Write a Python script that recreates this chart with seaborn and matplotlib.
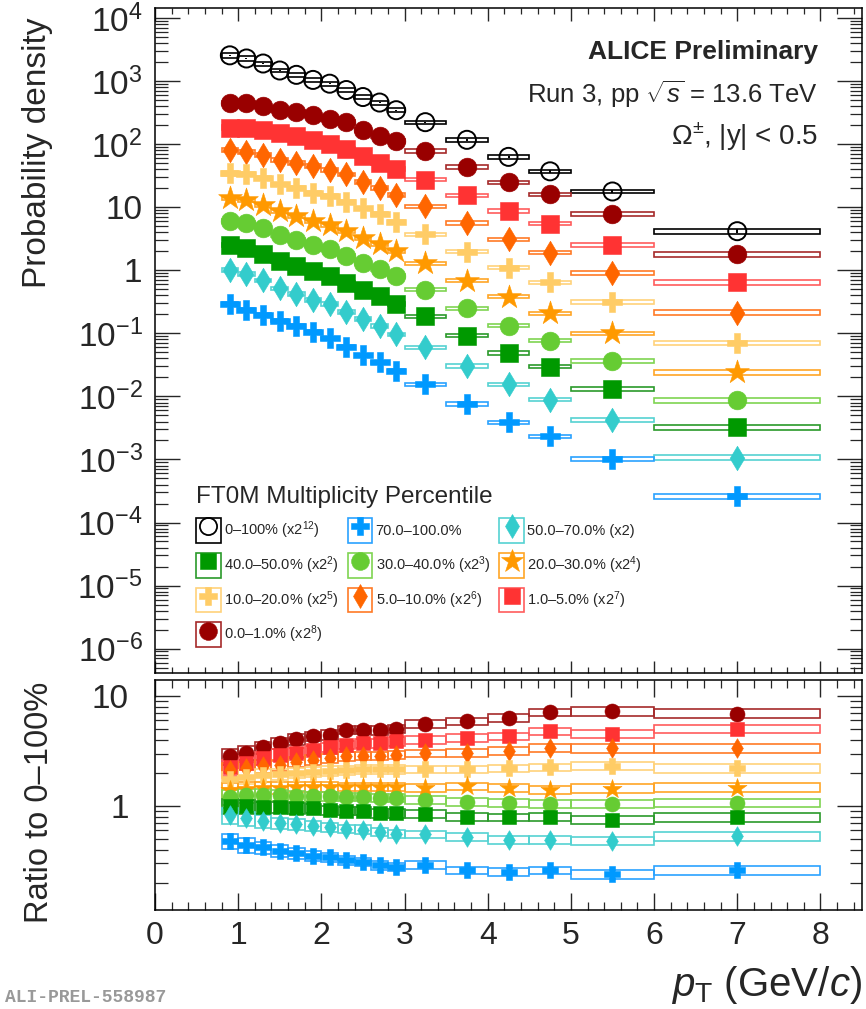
import numpy as np
import pandas as pd
import matplotlib
matplotlib.use("Agg")
import matplotlib.pyplot as plt
import seaborn as sns
from matplotlib.patches import Rectangle, Patch
from matplotlib.lines import Line2D
from matplotlib.legend_handler import HandlerTuple
from matplotlib.ticker import FixedLocator, FuncFormatter, NullFormatter, MultipleLocator

# ---------------- data ----------------
pt_lo = [0.8, 1.0, 1.2, 1.4, 1.6, 1.8, 2.0, 2.2, 2.4, 2.6, 2.8, 3.0, 3.5, 4.0, 4.5, 5.0, 6.0]
pt_hi = [1.0, 1.2, 1.4, 1.6, 1.8, 2.0, 2.2, 2.4, 2.6, 2.8, 3.0, 3.5, 4.0, 4.5, 5.0, 6.0, 8.0]
pt_center = [0.9, 1.1, 1.3, 1.5, 1.7, 1.9, 2.1, 2.3, 2.5, 2.7, 2.9, 3.25, 3.75, 4.25, 4.75, 5.5, 7.0]

classes = ["0–100%", "0.0–1.0%", "1.0–5.0%", "5.0–10.0%", "10.0–20.0%",
           "20.0–30.0%", "30.0–40.0%", "40.0–50.0%", "50.0–70.0%", "70.0–100.0%"]
scale_pow = [12, 8, 7, 6, 5, 4, 3, 2, 1, 0]

# unscaled probability densities
spec_0_100 = [0.628, 0.560, 0.466, 0.361, 0.308, 0.256, 0.223, 0.177, 0.137, 0.112, 0.0847,
              0.0547, 0.0287, 0.0154, 0.00908, 0.00435, 0.00102]
spec_0_1 = [1.78, 1.74, 1.57, 1.36, 1.26, 1.12, 1.00, 0.875, 0.668, 0.535, 0.435,
            0.305, 0.170, 0.0978, 0.0630, 0.0310, 0.00700]
spec_1_5 = [1.44, 1.39, 1.30, 1.16, 1.05, 0.898, 0.800, 0.665, 0.505, 0.400, 0.322,
            0.215, 0.121, 0.0681, 0.0430, 0.0196, 0.00505]
spec_5_10 = [1.28, 1.19, 1.06, 0.879, 0.800, 0.700, 0.620, 0.520, 0.393, 0.318, 0.246,
             0.162, 0.0879, 0.0483, 0.0298, 0.0143, 0.00334]
spec_10_20 = [1.08, 1.05, 0.902, 0.720, 0.630, 0.535, 0.470, 0.380, 0.300, 0.242, 0.185,
              0.116, 0.0620, 0.0343, 0.0202, 0.00989, 0.00221]
spec_20_30 = [0.880, 0.820, 0.690, 0.540, 0.460, 0.382, 0.332, 0.265, 0.204, 0.166, 0.127,
              0.0805, 0.0430, 0.0238, 0.0131, 0.00625, 0.00152]
spec_30_40 = [0.765, 0.700, 0.580, 0.450, 0.380, 0.316, 0.274, 0.214, 0.166, 0.133, 0.101,
              0.0618, 0.0313, 0.0166, 0.00960, 0.00454, 0.00108]
spec_40_50 = [0.628, 0.556, 0.452, 0.354, 0.293, 0.243, 0.203, 0.159, 0.123, 0.0963, 0.0728,
              0.0466, 0.0230, 0.0122, 0.00738, 0.00330, 0.000809]
spec_50_70 = [0.505, 0.440, 0.345, 0.258, 0.213, 0.172, 0.145, 0.111, 0.0840, 0.0660, 0.0480,
              0.0301, 0.0152, 0.00774, 0.00446, 0.00213, 0.000536]
spec_70_100 = [0.295, 0.238, 0.195, 0.160, 0.133, 0.105, 0.0832, 0.0603, 0.0447, 0.0347, 0.0257,
               0.0155, 0.00759, 0.00389, 0.00234, 0.00102, 0.000263]

# ratios to 0-100%
ratio_0_1 = [2.82, 3.06, 3.41, 3.73, 4.06, 4.30, 4.45, 4.94, 4.94, 4.88, 5.05, 5.61, 5.90, 6.32, 7.13, 7.28, 6.93]
ratio_1_5 = [2.25, 2.48, 2.72, 2.92, 3.06, 3.20, 3.41, 3.60, 3.73, 3.73, 3.87, 4.00, 4.15, 4.30, 4.77, 4.54, 5.05]
ratio_5_10 = [2.12, 2.20, 2.31, 2.36, 2.53, 2.62, 2.72, 2.82, 2.86, 2.86, 2.92, 3.02, 3.06, 3.17, 3.36, 3.36, 3.36]
ratio_10_20 = [1.75, 1.85, 1.91, 1.95, 2.01, 2.05, 2.09, 2.12, 2.15, 2.15, 2.15, 2.15, 2.15, 2.20, 2.25, 2.31, 2.20]
ratio_20_30 = [1.39, 1.44, 1.47, 1.47, 1.49, 1.49, 1.49, 1.49, 1.49, 1.49, 1.49, 1.47, 1.51, 1.47, 1.41, 1.44, 1.47]
ratio_30_40 = [1.21, 1.25, 1.25, 1.25, 1.23, 1.23, 1.23, 1.21, 1.21, 1.19, 1.19, 1.13, 1.09, 1.07, 1.05, 1.05, 1.07]
ratio_40_50 = [1.00, 0.99, 0.97, 0.98, 0.95, 0.95, 0.91, 0.90, 0.90, 0.86, 0.86, 0.85, 0.80, 0.79, 0.80, 0.75, 0.79]
ratio_50_70 = [0.82, 0.77, 0.73, 0.70, 0.68, 0.66, 0.64, 0.62, 0.61, 0.58, 0.56, 0.55, 0.52, 0.49, 0.49, 0.48, 0.53]
ratio_70_100 = [0.48, 0.44, 0.42, 0.39, 0.37, 0.35, 0.34, 0.32, 0.31, 0.29, 0.28, 0.29, 0.26, 0.25, 0.26, 0.24, 0.26]

# relative uncertainties
spec_sys = [0.08, 0.08, 0.07, 0.07, 0.07, 0.07, 0.07, 0.07, 0.07, 0.07, 0.07, 0.06, 0.06, 0.06, 0.06, 0.07, 0.09]
spec_stat = [0.01, 0.01, 0.01, 0.01, 0.01, 0.01, 0.01, 0.01, 0.015, 0.015, 0.02, 0.02, 0.03, 0.04, 0.05, 0.06, 0.08]
ratio_sys = [0.16, 0.15, 0.13, 0.12, 0.11, 0.10, 0.10, 0.09, 0.09, 0.09, 0.09, 0.08, 0.08, 0.08, 0.08, 0.09, 0.09]
ratio_stat = [0.03, 0.03, 0.03, 0.03, 0.03, 0.03, 0.03, 0.03, 0.03, 0.04, 0.04, 0.04, 0.05, 0.06, 0.07, 0.08, 0.10]

spectra = [spec_0_100, spec_0_1, spec_1_5, spec_5_10, spec_10_20, spec_20_30,
           spec_30_40, spec_40_50, spec_50_70, spec_70_100]
ratios = [None, ratio_0_1, ratio_1_5, ratio_5_10, ratio_10_20, ratio_20_30,
          ratio_30_40, ratio_40_50, ratio_50_70, ratio_70_100]

# ---------------- style ----------------
colors = ["#000000", "#990000", "#ff3333", "#ff6600", "#ffcc66", "#ff9900",
          "#66cc33", "#009900", "#33cccc", "#0099ff"]
box_colors = ["#000000", "#a52a2a", "#ff5c5c", "#ff7a26", "#ffd27a", "#ffa526",
              "#7fd452", "#2a9a2a", "#55d2d2", "#2aa2ff"]
markers = ["o", "o", "s", "d", "P", "*", "o", "s", "d", "P"]
msizes = [13, 13.5, 12.5, 12.5, 14, 18, 13.5, 12.5, 12.5, 14]

sns.set_theme(style="ticks")
plt.rcParams["font.family"] = ["Liberation Sans", "DejaVu Sans"]
plt.rcParams["mathtext.fontset"] = "custom"
plt.rcParams["mathtext.rm"] = "Liberation Sans"
plt.rcParams["mathtext.it"] = "Liberation Sans:italic"
plt.rcParams["mathtext.bf"] = "Liberation Sans:bold"
plt.rcParams["axes.linewidth"] = 1.1
plt.rcParams["axes.unicode_minus"] = True

W, H = 866, 1009
fig = plt.figure(figsize=(W / 100, H / 100), dpi=100)
fig.patch.set_facecolor("white")


def fx(px):
    return px / W


def fy(py):
    return 1 - py / H


ax1 = fig.add_axes([fx(155), fy(673), (862 - 155) / W, (673 - 8) / H])
ax2 = fig.add_axes([fx(155), fy(910), (862 - 155) / W, (910 - 680) / H])


def draw(ax, vals, sys_rel, stat_rel, i, scale=1.0, msfac=1.0):
    y = np.array(vals) * scale
    for lo, hi, v, s in zip(pt_lo, pt_hi, y, sys_rel):
        ax.add_patch(Rectangle((lo, v * (1 - s)), hi - lo, 2 * v * s, fill=False,
                               ec=box_colors[i], lw=1.2, zorder=2))
    ax.errorbar(pt_center, y, yerr=y * np.array(stat_rel), fmt="none",
                ecolor=colors[i], elinewidth=1.4, zorder=3)
    df = pd.DataFrame({"pt": pt_center, "val": y})
    sns.scatterplot(data=df, x="pt", y="val", ax=ax, marker=markers[i],
                    s=(msizes[i] * msfac) ** 2,
                    color=colors[i], edgecolor=colors[i], linewidth=0.4, zorder=4, legend=False)
    if i == 0:
        coll = ax.collections[-1]
        coll.set_facecolor("none")
        coll.set_edgecolor("black")
        coll.set_linewidth(1.4)


for i in range(len(classes)):
    draw(ax1, spectra[i], spec_sys, spec_stat, i, scale=2.0 ** scale_pow[i])
for i in range(1, len(classes)):
    draw(ax2, ratios[i], ratio_sys, ratio_stat, i, msfac=0.8)

# axes formatting
for ax in (ax1, ax2):
    ax.set_xlim(0, 8.5)
    ax.set_yscale("log")
    ax.xaxis.set_major_locator(MultipleLocator(1))
    ax.xaxis.set_minor_locator(MultipleLocator(0.2))
    ax.set_xlabel("")
    ax.set_ylabel("")
    for sp in ax.spines.values():
        sp.set_visible(True)
        sp.set_color("black")
        sp.set_linewidth(1.1)

ax1.set_ylim(4.1e-7, 1.45e4)
ax2.set_ylim(0.113, 14.0)

# top y ticks
dec = list(range(-6, 5))
ax1.yaxis.set_major_locator(FixedLocator([10.0 ** d for d in dec]))
minors = [m * 10.0 ** d for d in range(-7, 5) for m in range(2, 10)]
ax1.yaxis.set_minor_locator(FixedLocator(minors))


def fmt_top(v, pos):
    e = int(round(np.log10(v)))
    if e == 0:
        return "1"
    if e == 1:
        return "10"
    return r"$10^{%d}$" % e


ax1.yaxis.set_major_formatter(FuncFormatter(fmt_top))
ax1.yaxis.set_minor_formatter(NullFormatter())
ax1.tick_params(axis="y", which="major", direction="in", length=18, width=1.0,
                left=True, right=True, labelsize=24, pad=9)
ax1.tick_params(axis="y", which="minor", direction="in", length=9, width=0.9,
                left=True, right=True)
ax1.tick_params(axis="x", which="major", direction="in", length=9, width=1.0,
                top=True, bottom=True, labelbottom=False)
ax1.tick_params(axis="x", which="minor", direction="in", length=4.5, width=0.9,
                top=True, bottom=True)

# bottom ticks
ax2.yaxis.set_major_locator(FixedLocator([1.0, 10.0]))
ax2.yaxis.set_minor_locator(FixedLocator([m * 0.1 for m in range(2, 10)] + [float(m) for m in range(2, 10)]))
ax2.yaxis.set_major_formatter(FuncFormatter(lambda v, p: "%g" % v))
ax2.yaxis.set_minor_formatter(NullFormatter())
ax2.tick_params(axis="y", which="major", direction="in", length=18, width=1.0,
                left=True, right=True, labelsize=24, pad=19)
ax2.tick_params(axis="y", which="minor", direction="in", length=9, width=0.9,
                left=True, right=True)
ax2.tick_params(axis="x", which="major", direction="in", length=12, width=1.0,
                top=True, bottom=True, labelsize=23, pad=8)
ax2.tick_params(axis="x", which="minor", direction="in", length=6, width=0.9,
                top=True, bottom=True)
ax2.xaxis.set_major_formatter(FuncFormatter(lambda v, p: "%d" % v))

# legend
order = [0, 7, 4, 1, 9, 6, 3, 8, 5, 2]
labels_all = []
for i in range(len(classes)):
    p = scale_pow[i]
    if p == 0:
        labels_all.append(classes[i])
    elif p == 1:
        labels_all.append(classes[i] + " (x2)")
    else:
        labels_all.append(classes[i] + r" (x2$^{%d}$)" % p)
handles, labels = [], []
for i in order:
    rect = Patch(facecolor="none", edgecolor=box_colors[i], linewidth=1.2)
    mk = Line2D([], [], linestyle="none", marker=markers[i], markersize=msizes[i] * 0.95,
                color=colors[i], markerfacecolor=("none" if i == 0 else colors[i]),
                markeredgecolor=colors[i], markeredgewidth=(1.3 if i == 0 else 0.4))
    handles.append((rect, mk))
    labels.append(labels_all[i])

fs_leg = 10.5
leg = ax1.legend(handles, labels, handler_map={tuple: HandlerTuple(ndivide=1, pad=0.0)},
                 ncol=3, loc="upper left", bbox_to_anchor=((196 - 155) / 707, (673 - 486) / 665),
                 frameon=False, fontsize=fs_leg, title="FT0M Multiplicity Percentile",
                 title_fontsize=17.5, handlelength=1.71, handleheight=2.25,
                 handletextpad=0.22, columnspacing=0.6, labelspacing=0.68,
                 alignment="left", borderpad=0.0, borderaxespad=0.0)

# texts
fig.text(fx(818), fy(52), "ALICE Preliminary", ha="right", va="center",
         fontsize=19, fontweight="bold")
fig.text(fx(818), fy(94), r"Run 3, pp $\sqrt{s}$ = 13.6 TeV", ha="right", va="center",
         fontsize=18.5)
fig.text(fx(818), fy(137), r"Ω$^{\pm}$, |y| < 0.5", ha="right", va="center", fontsize=20)

fig.text(fx(38), fy(18), "Probability density", rotation=90, ha="center", va="top",
         fontsize=24)
fig.text(fx(40), fy(682), "Ratio to 0–100%", rotation=90, ha="center", va="top",
         fontsize=23.5)
fig.text(fx(862), fy(985), r"$p_{\mathrm{T}}$ (GeV/$c$)", ha="right", va="center",
         fontsize=29)
fig.text(fx(5), fy(998), "ALI-PREL-558987", ha="left", va="center", fontsize=13,
         family="Liberation Mono", fontweight="bold", color="#999999")

fig.savefig("out.png", dpi=100, facecolor="white")
